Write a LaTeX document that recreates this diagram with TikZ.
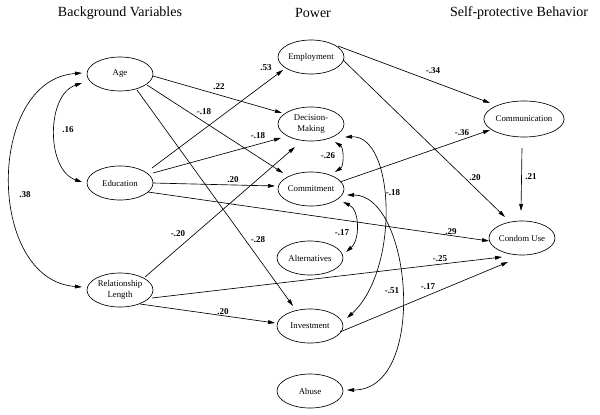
\documentclass[tikz,border=0pt]{standalone}
\usepackage{fontspec}
\setmainfont{Liberation Serif}
\usetikzlibrary{shapes.geometric,arrows.meta}
\begin{document}
\begin{tikzpicture}[x=1pt,y=-1pt,
  var/.style={draw,ellipse,line width=0.65pt,minimum width=66pt,minimum height=34pt,inner sep=0pt,align=center,font=\fontsize{8.8}{10.8}\selectfont},
  ttl/.style={font=\fontsize{14}{16}\selectfont},
  coef/.style={font=\bfseries\fontsize{9}{10}\selectfont,inner sep=0.5pt},
  arr/.style={line width=0.65pt,-{Triangle[length=7pt,width=3.8pt]}},
  barr/.style={line width=0.65pt,{Triangle[length=7pt,width=3.8pt]}-{Triangle[length=7pt,width=3.8pt]}}]
\useasboundingbox (0,0) rectangle (600,415);
% titles
\node[ttl] (t1) at (120,13) {Background Variables};
\node[ttl] (t2) at (313,13) {Power};
\node[ttl] (t3) at (519,13) {Self-protective Behavior};
% variables
\node[var] (Age) at (120,74) {Age};
\node[var] (Edu) at (120,183) {Education};
\node[var] (RL)  at (120,290) {Relationship\\Length};
\node[var] (Emp) at (311,57) {Employment};
\node[var] (DM)  at (311,124) {Decision-\\Making};
\node[var] (Com) at (311,189) {Commitment};
\node[var] (Alt) at (310,258) {Alternatives};
\node[var] (Inv) at (310,326) {Investment};
\node[var] (Abu) at (310,391) {Abuse};
\node[var,minimum width=70pt,minimum height=36pt] (Comm) at (524,119) {Communication};
\node[var] (CU)  at (522,238) {Condom Use};
% straight paths
\draw[arr] ([shift={(33,2)}]Age.center) -- ([shift={(-29,-11)}]DM.center);
\draw[arr] ([shift={(27,11)}]Age.center) -- ([shift={(-28,-16)}]Com.center);
\draw[arr] ([shift={(17,16)}]Age.center) -- ([shift={(-17,-20)}]Inv.center);
\draw[arr] ([shift={(32,-15)}]Edu.center) -- ([shift={(-28,13)}]Emp.center);
\draw[arr] ([shift={(33,-10)}]Edu.center) -- ([shift={(-30,14)}]DM.center);
\draw[arr] ([shift={(33,0)}]Edu.center) -- ([shift={(-36,-3)}]Com.center);
\draw[arr] ([shift={(28,9)}]Edu.center) -- ([shift={(-33,3)}]CU.center);
\draw[arr] ([shift={(25,-13)}]RL.center) -- ([shift={(-16,23)}]DM.center);
\draw[arr] ([shift={(32,8)}]RL.center) -- ([shift={(-20,19)}]CU.center);
\draw[arr] ([shift={(20,14)}]RL.center) -- ([shift={(-35,-3)}]Inv.center);
\draw[arr] ([shift={(27,-11)}]Emp.center) -- ([shift={(-34,-16)}]Comm.center);
\draw[arr] ([shift={(32,3)}]Emp.center) -- ([shift={(-17,-21)}]CU.center);
\draw[arr] ([shift={(29,-7)}]Com.center) -- ([shift={(-34,11)}]Comm.center);
\draw[arr] ([shift={(-2,29)}]Comm.center) -- ([shift={(-1,-27)}]CU.center);
\draw[arr] ([shift={(30,6)}]Inv.center) -- ([shift={(-14,24)}]CU.center);
% correlations (curved)
\draw[barr] ([shift={(-38,9)}]Age.center) .. controls (46,95) and (46,170) .. ([shift={(-38,-1)}]Edu.center);
\draw[barr] ([shift={(-38,-1)}]Age.center) .. controls (-14,80) and (-14,280) .. ([shift={(-38,-3)}]RL.center);
\draw[barr] ([shift={(24,18)}]DM.center) .. controls (344,148) and (344,166) .. ([shift={(24,-17)}]Com.center);
\draw[barr] ([shift={(32,13)}]Com.center) .. controls (360,210) and (360,240) .. ([shift={(36,-6)}]Alt.center);
\draw[barr] ([shift={(34,13)}]DM.center) .. controls (395,135) and (400,270) .. ([shift={(37,-8)}]Inv.center);
\draw[barr] ([shift={(36,6)}]Com.center) .. controls (412,195) and (428,390) .. ([shift={(37,-1)}]Abu.center);
% coefficients
\node[coef] (c1) at (219,87) {.22};
\node[coef] (c2) at (204,112) {-.18};
\node[coef] (c3) at (258,240) {-.28};
\node[coef] (c4) at (266,68) {.53};
\node[coef] (c5) at (258,136) {-.18};
\node[coef] (c6) at (233,180) {.20};
\node[coef] (c7) at (451,232) {.29};
\node[coef] (c8) at (178,234) {-.20};
\node[coef] (c9) at (440,259) {-.25};
\node[coef] (c10) at (223,312) {.20};
\node[coef] (c11) at (433,71) {-.34};
\node[coef] (c12) at (475,178) {.20};
\node[coef] (c13) at (462,133) {-.36};
\node[coef] (c14) at (531,177) {.21};
\node[coef] (c15) at (428,287) {-.17};
\node[coef] (c16) at (68,130) {.16};
\node[coef] (c17) at (25,195) {.38};
\node[coef] (c18) at (328,156) {-.26};
\node[coef] (c19) at (342,233) {-.17};
\node[coef] (c20) at (393,193) {-.18};
\node[coef] (c21) at (392,291) {-.51};
\end{tikzpicture}
\end{document}
